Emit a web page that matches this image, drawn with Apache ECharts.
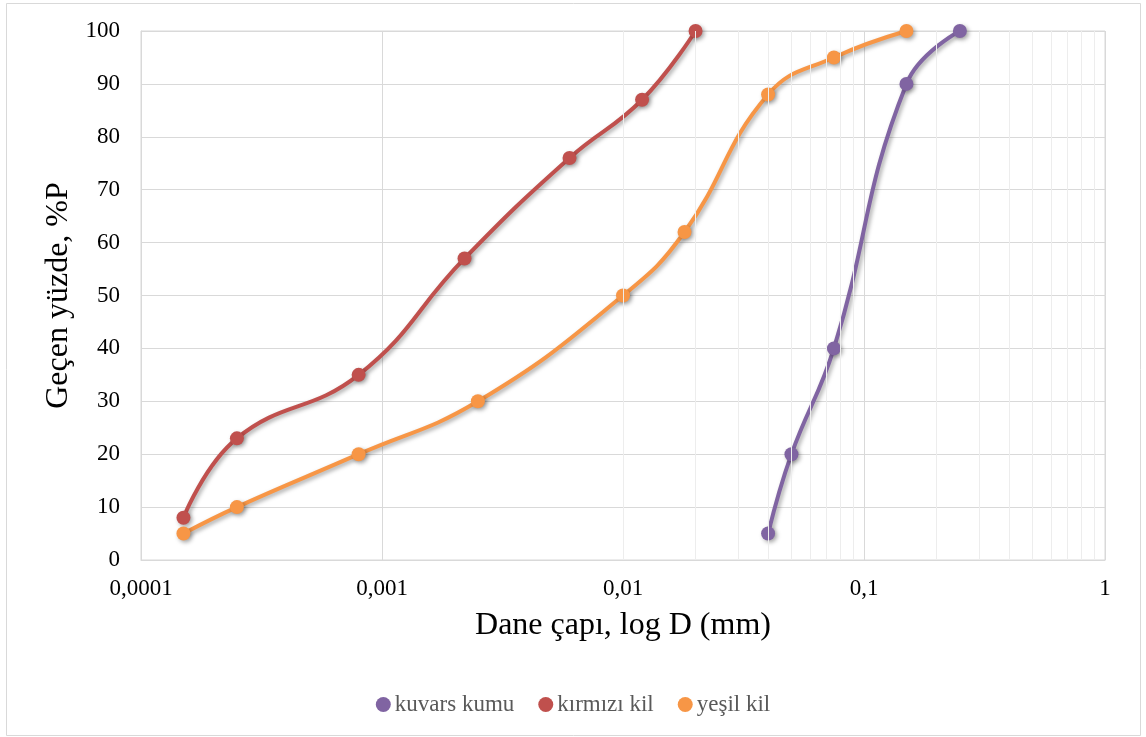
<!DOCTYPE html>
<html><head><meta charset="utf-8">
<script src="https://cdn.jsdelivr.net/npm/echarts@6/dist/echarts.min.js"></script>
<style>html,body{margin:0;padding:0;background:#fff}#c{width:1146px;height:737px}</style>
</head><body><div id="c"></div>
<script>
const xTickLabels = ['0,0001', '0,001', '0,01', '0,1', '1'];
const decades = [0.0001, 0.001, 0.01, 0.1];
const minorMultipliers = [2, 3, 4, 5, 6, 7, 8, 9];

const kuvarsD = [0.04, 0.05, 0.075, 0.15, 0.25];
const kuvarsP = [5, 20, 40, 90, 100];

const kirmiziD = [0.00015, 0.00025, 0.0008, 0.0022, 0.006, 0.012, 0.02];
const kirmiziP = [8, 23, 35, 57, 76, 87, 100];

const yesilD = [0.00015, 0.00025, 0.0008, 0.0025, 0.01, 0.018, 0.04, 0.075, 0.15];
const yesilP = [5, 10, 20, 30, 50, 62, 88, 95, 100];

const pair = (xs, ys) => xs.map((x, i) => [x, ys[i]]);
const minorLines = [];
decades.forEach(d => minorMultipliers.forEach(m => minorLines.push({ xAxis: d * m })));

const font = "'Liberation Serif', 'Times New Roman', serif";
const shadow = { shadowColor: 'rgba(0,0,0,0.35)', shadowBlur: 4, shadowOffsetX: 2, shadowOffsetY: 2 };

function lineSeries(name, color, data) {
  return {
    name, type: 'line', data, smooth: 0.45, symbol: 'circle', symbolSize: 14, z: 3,
    lineStyle: Object.assign({ color, width: 4 }, shadow),
    itemStyle: Object.assign({ color }, shadow)
  };
}

const chart = echarts.init(document.getElementById('c'), null, { renderer: 'canvas' });
chart.setOption({
  animation: false,
  backgroundColor: '#fff',
  graphic: [{ type: 'rect', shape: { x: 6.5, y: 3.5, width: 1134, height: 732 }, style: { fill: 'none', stroke: '#d9d9d9', lineWidth: 1 }, z: -1 }],
  grid: { left: 141, right: 41, top: 31, bottom: 177, show: true, borderColor: '#d9d9d9', borderWidth: 1 },
  legend: {
    top: 688, left: 'center', icon: 'circle', itemWidth: 15, itemHeight: 15, itemGap: 24,
    textStyle: { fontFamily: font, fontSize: 23, color: '#595959', padding: [0, 0, 0, -1] },
    data: ['kuvars kumu', 'kırmızı kil', 'yeşil kil']
  },
  xAxis: {
    type: 'log', logBase: 10, min: 0.0001, max: 1,
    name: 'Dane çapı, log D (mm)', nameLocation: 'middle', nameGap: 50,
    nameTextStyle: { fontFamily: font, fontSize: 32, color: '#000' },
    axisLine: { show: true, lineStyle: { color: '#d9d9d9', width: 1 } },
    axisTick: { show: false },
    axisLabel: {
      fontFamily: font, fontSize: 23, color: '#000', margin: 17,
      formatter: v => xTickLabels[Math.round(Math.log10(v)) + 4]
    },
    splitLine: { show: true, lineStyle: { color: '#d9d9d9', width: 1 } }
  },
  yAxis: {
    type: 'value', min: 0, max: 100, interval: 10,
    name: 'Geçen yüzde, %P', nameLocation: 'middle', nameGap: 58,
    nameTextStyle: { fontFamily: font, fontSize: 32, color: '#000' },
    axisLine: { show: true, lineStyle: { color: '#d9d9d9', width: 1 } },
    axisTick: { show: false },
    axisLabel: { fontFamily: font, fontSize: 23, color: '#000', margin: 21 },
    splitLine: { show: true, lineStyle: { color: '#d9d9d9', width: 1 } }
  },
  series: [
    {
      name: 'minor', type: 'line', data: [], z: 1, silent: true,
      markLine: { silent: true, symbol: 'none', label: { show: false }, animation: false,
        lineStyle: { color: '#ededed', width: 1, type: 'solid' }, data: minorLines }
    },
    lineSeries('kuvars kumu', '#8064A2', pair(kuvarsD, kuvarsP)),
    lineSeries('kırmızı kil', '#C0504D', pair(kirmiziD, kirmiziP)),
    lineSeries('yeşil kil', '#F79646', pair(yesilD, yesilP))
  ]
});
</script></body></html>
